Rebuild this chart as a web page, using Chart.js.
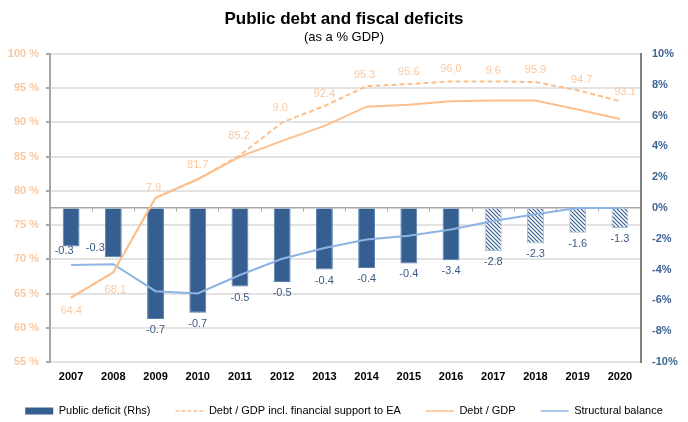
<!DOCTYPE html>
<html>
<head>
<meta charset="utf-8">
<script src="https://cdn.jsdelivr.net/npm/chart.js@4.4.0/dist/chart.umd.min.js"></script>
<style>
	html, body { margin: 0; padding: 0; background: #fff; }
</style>
</head>
<body>
<canvas id="debt_chart" width="688" height="422"></canvas>
<script>
const years = ['2007', '2008', '2009', '2010', '2011', '2012', '2013', '2014', '2015', '2016', '2017', '2018', '2019', '2020']

// public deficit, % of GDP (right axis)
const deficit = [-2.5, -3.2, -7.2, -6.8, -5.1, -4.8, -4.0, -3.9, -3.6, -3.4, -2.8, -2.3, -1.6, -1.3]
const deficit_labels = ['-0.3', '-0.3', '-0.7', '-0.7', '-0.5', '-0.5', '-0.4', '-0.4', '-0.4', '-3.4', '-2.8', '-2.3', '-1.6', '-1.3']

// debt ratios, % of GDP (left axis)
const debt_incl_support = [64.4, 68.1, 79.0, 81.7, 85.2, 90.0, 92.4, 95.3, 95.6, 96.0, 96.0, 95.9, 94.7, 93.1]
const debt_incl_labels = ['64.4', '68.1', '7.9', '81.7', '85.2', '9.0', '92.4', '95.3', '95.6', '96,0', '9.6', '95.9', '94.7', '93.1']
const debt = [64.4, 68.1, 79.0, 81.7, 85.0, 87.3, 89.5, 92.3, 92.6, 93.1, 93.2, 93.2, 91.9, 90.5]

// structural balance, % of GDP (right axis)
const structural = [-3.7, -3.65, -5.4, -5.55, -4.35, -3.3, -2.6, -2.05, -1.8, -1.4, -0.85, -0.4, 0.0, 0.0]

// first forecast year, drawn hatched
const first_forecast = '2017'

const font_family = "Arial, 'Liberation Sans', sans-serif"
const bar_blue = '#365f91'
const orange = '#fcbf8c'
const orange_text = '#fbc8a0'
const light_blue = '#8db4e2'

function make_hatch() {
	const c = document.createElement('canvas')
	c.width = 4
	c.height = 4
	const g = c.getContext('2d')
	g.fillStyle = '#ffffff'
	g.fillRect(0, 0, 4, 4)
	g.strokeStyle = bar_blue
	g.lineWidth = 1.2
	g.beginPath()
	g.moveTo(-1, -1)
	g.lineTo(5, 5)
	g.moveTo(-1, 3)
	g.lineTo(1, 5)
	g.moveTo(3, -1)
	g.lineTo(5, 1)
	g.stroke()
	return g.createPattern(c, 'repeat')
}

const hatch = make_hatch()
const forecast_idx = years.indexOf(first_forecast)
const bar_fill = years.map((y, i) => i >= forecast_idx ? hatch : bar_blue)
const bar_border = years.map((y, i) => i >= forecast_idx ? '#a9bcd4' : '#5b80ae')

// text labels next to the bars and the dashed debt line
const value_labels = {
	id: 'value_labels',
	afterDatasetsDraw(chart, args, opts) {
		const ctx = chart.ctx
		ctx.save()
		ctx.textAlign = 'center'
		ctx.textBaseline = 'middle'
		opts.sets.forEach(set => {
			const meta = chart.getDatasetMeta(set.dataset)
			ctx.fillStyle = set.color
			ctx.font = '11px ' + font_family
			meta.data.forEach((el, i) => {
				const shift = set.shift[i] || [0, 0]
				ctx.fillText(set.texts[i], el.x + shift[0], el.y + set.dy + shift[1])
			})
		})
		ctx.restore()
	}
}

// keep the legend strip short so the plot gets the height
const legend_height = {
	id: 'legend_height',
	beforeInit(chart) {
		const legend = chart.legend
		const fit = legend.fit.bind(legend)
		legend.fit = () => {
			fit()
			legend.height = 39.5
		}
	}
}

const chart = new Chart(document.getElementById('debt_chart'), {
	type: 'bar',
	data: {
		labels: years,
		datasets: [{
			type: 'line',
			label: 'Debt / GDP incl. financial support to EA',
			data: debt_incl_support,
			yAxisID: 'y',
			borderColor: orange,
			borderWidth: 2,
			borderDash: [5, 3],
			pointRadius: 0,
			order: 0
		}, {
			type: 'line',
			label: 'Debt / GDP',
			data: debt,
			yAxisID: 'y',
			borderColor: orange,
			borderWidth: 2,
			pointRadius: 0,
			order: 0
		}, {
			type: 'line',
			label: 'Structural balance',
			data: structural,
			yAxisID: 'yR',
			borderColor: light_blue,
			borderWidth: 2,
			pointRadius: 0,
			order: 0
		}, {
			label: 'Public deficit (Rhs)',
			data: deficit,
			yAxisID: 'yR',
			backgroundColor: bar_fill,
			borderColor: bar_border,
			borderWidth: 1,
			categoryPercentage: 1,
			barPercentage: 0.4,
			order: 1
		}]
	},
	options: {
		responsive: false,
		animation: false,
		layout: {
			padding: { left: 0, right: 0, top: 0, bottom: 2 }
		},
		scales: {
			x: {
				position: 'bottom',
				grid: { display: false, drawTicks: false },
				border: { display: false },
				ticks: {
					color: '#000',
					padding: 8,
					maxRotation: 0,
					font: { family: font_family, size: 11, weight: 'bold' }
				},
				afterFit(scale) { scale.height = 18.5 }
			},
			x0: {
				type: 'category',
				position: { yR: 0 },
				offset: true,
				grid: {
					offset: true,
					drawOnChartArea: false,
					tickLength: 3,
					tickColor: '#a6a6a6'
				},
				border: { color: '#a6a6a6', width: 1.5 },
				ticks: { display: false },
				afterFit(scale) { scale.height = 0 }
			},
			y: {
				position: 'left',
				min: 55,
				max: 100,
				ticks: {
					stepSize: 5,
					padding: 7,
					color: orange_text,
					font: { family: font_family, size: 11, weight: 'bold' },
					callback: v => v + ' %'
				},
				grid: {
					color: '#e3e3e3',
					lineWidth: 2,
					tickLength: 4,
					tickColor: '#a6a6a6'
				},
				border: { color: '#a6a6a6', width: 2 },
				afterFit(scale) { scale.width = 50 }
			},
			yR: {
				position: 'right',
				min: -10,
				max: 10,
				ticks: {
					stepSize: 2,
					padding: 11,
					color: '#3d6596',
					font: { family: font_family, size: 11, weight: 'bold' },
					callback: v => v + '%'
				},
				grid: { drawOnChartArea: false, drawTicks: false },
				border: { color: '#7f7f7f', width: 2 },
				afterFit(scale) { scale.width = 47 }
			}
		},
		plugins: {
			title: {
				display: true,
				text: 'Public debt and fiscal deficits',
				color: '#000',
				font: { family: font_family, size: 17, weight: 'bold' },
				padding: { top: 9, bottom: 0 }
			},
			subtitle: {
				display: true,
				text: '(as a % GDP)',
				color: '#000',
				font: { family: font_family, size: 13 },
				padding: { top: 0, bottom: 9 }
			},
			legend: {
				position: 'bottom',
				labels: {
					usePointStyle: true,
					pointStyleWidth: 28,
					boxHeight: 7,
					padding: 25,
					color: '#000',
					font: { family: font_family, size: 11 },
					generateLabels: () => [
						{ text: 'Public deficit (Rhs)', fillStyle: bar_blue, strokeStyle: bar_blue, lineWidth: 0, pointStyle: 'rect' },
						{ text: 'Debt / GDP incl. financial support to EA', fillStyle: orange, strokeStyle: orange, lineWidth: 1.5, lineDash: [4, 2], pointStyle: 'line' },
						{ text: 'Debt / GDP', fillStyle: orange, strokeStyle: orange, lineWidth: 1.5, pointStyle: 'line' },
						{ text: 'Structural balance', fillStyle: light_blue, strokeStyle: light_blue, lineWidth: 1.5, pointStyle: 'line' }
					]
				}
			},
			tooltip: { enabled: false },
			value_labels: {
				sets: [{
					dataset: 3,
					texts: deficit_labels,
					color: '#3c5a85',
					dy: 11,
					shift: { 0: [-7, -7], 1: [-18, -20] }
				}, {
					dataset: 0,
					texts: debt_incl_labels,
					color: orange_text,
					dy: -12,
					shift: { 0: [0, 25], 1: [2, 30], 2: [-2, 2], 3: [0, -2], 4: [-1, -7], 5: [-2, -2], 7: [-2, 1], 10: [0, 2], 12: [4, 2], 13: [5, 3] }
				}]
			}
		}
	},
	plugins: [value_labels, legend_height]
})
</script>
</body>
</html>
